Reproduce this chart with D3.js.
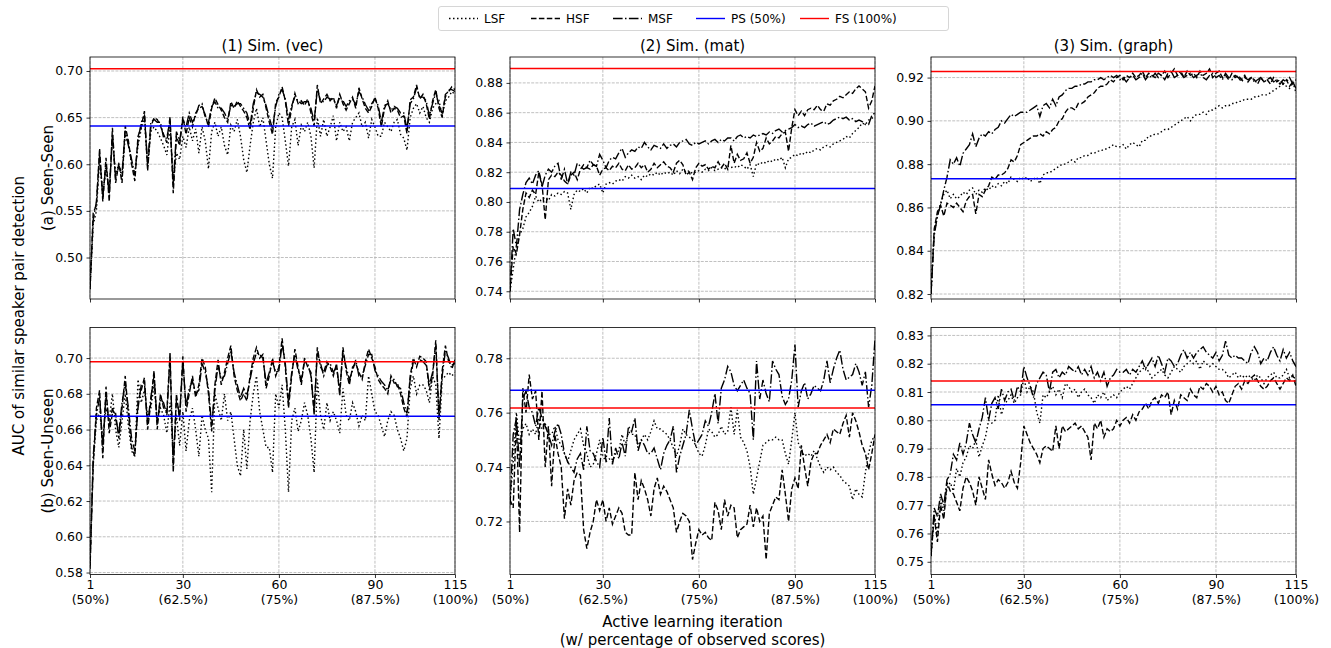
<!DOCTYPE html>
<html>
<head>
<meta charset="utf-8">
<script src="https://cdn.jsdelivr.net/npm/d3@7"></script>
<style>
  body { margin: 0; background: #fff; }
  text { font-family: "DejaVu Sans", sans-serif; fill: #000; }
</style>
</head>
<body>
<div id="container"></div>
<script>
// CONSTANTS AND GLOBALS
const width = 1331, height = 648;

const iterations = d3.range(1, 116);
const xTicks = [1, 30, 60, 90, 115];
const xTickLabels = [["1", "(50%)"], ["30", "(62.5%)"], ["60", "(75%)"], ["90", "(87.5%)"], ["115", "(100%)"]];
const colTitles = ["(1) Sim. (vec)", "(2) Sim. (mat)", "(3) Sim. (graph)"];
const rowTitles = ["(a) Seen-Seen", "(b) Seen-Unseen"];
const legendLabels = ["LSF", "HSF", "MSF", "PS (50%)", "FS (100%)"];

// DATA
// (1) vec, Seen-Seen
const lsfVecSS = [0.466,0.535,0.550,0.605,0.570,0.595,0.572,0.625,0.590,0.600,
  0.585,0.630,0.622,0.600,0.590,0.620,0.638,0.648,0.598,0.635,
  0.640,0.635,0.628,0.620,0.610,0.640,0.580,0.612,0.605,0.630,
  0.618,0.640,0.625,0.638,0.612,0.640,0.625,0.595,0.635,0.645,
  0.630,0.640,0.620,0.610,0.642,0.635,0.648,0.630,0.605,0.591,
  0.620,0.645,0.660,0.640,0.650,0.625,0.600,0.585,0.640,0.655,
  0.650,0.625,0.598,0.640,0.648,0.620,0.642,0.635,0.645,0.630,
  0.596,0.650,0.630,0.648,0.630,0.640,0.652,0.625,0.645,0.635,
  0.640,0.625,0.645,0.650,0.655,0.640,0.645,0.628,0.648,0.640,
  0.630,0.630,0.645,0.640,0.635,0.645,0.648,0.632,0.628,0.615,
  0.650,0.660,0.665,0.655,0.662,0.650,0.645,0.660,0.665,0.668,
  0.652,0.668,0.672,0.678,0.675];
const hsfVecSS = [0.466,0.548,0.556,0.617,0.560,0.607,0.560,0.639,0.580,0.601,
  0.580,0.641,0.625,0.600,0.582,0.630,0.640,0.657,0.593,0.640,
  0.650,0.648,0.641,0.632,0.623,0.651,0.569,0.630,0.620,0.651,
  0.632,0.650,0.640,0.655,0.660,0.662,0.653,0.640,0.660,0.671,
  0.664,0.658,0.650,0.645,0.667,0.660,0.668,0.662,0.657,0.650,
  0.637,0.660,0.680,0.672,0.675,0.660,0.645,0.632,0.666,0.672,
  0.683,0.668,0.641,0.660,0.676,0.665,0.668,0.663,0.670,0.655,
  0.641,0.685,0.665,0.670,0.675,0.668,0.672,0.660,0.675,0.665,
  0.658,0.665,0.672,0.660,0.682,0.670,0.660,0.655,0.662,0.672,
  0.660,0.640,0.660,0.668,0.655,0.660,0.658,0.650,0.652,0.633,
  0.669,0.672,0.685,0.670,0.675,0.665,0.648,0.668,0.680,0.660,
  0.650,0.675,0.678,0.683,0.680];
const msfVecSS = [0.468,0.540,0.560,0.610,0.565,0.600,0.568,0.632,0.585,0.598,
  0.590,0.636,0.620,0.605,0.588,0.625,0.645,0.652,0.600,0.645,
  0.648,0.645,0.645,0.628,0.628,0.647,0.578,0.635,0.625,0.648,
  0.640,0.655,0.645,0.652,0.663,0.665,0.650,0.645,0.662,0.667,
  0.660,0.660,0.655,0.648,0.663,0.662,0.665,0.665,0.660,0.655,
  0.642,0.665,0.677,0.675,0.672,0.663,0.650,0.638,0.662,0.675,
  0.680,0.670,0.648,0.663,0.672,0.668,0.665,0.667,0.667,0.660,
  0.646,0.680,0.668,0.667,0.672,0.670,0.670,0.663,0.672,0.668,
  0.662,0.668,0.670,0.664,0.678,0.672,0.664,0.658,0.665,0.670,
  0.663,0.645,0.663,0.665,0.658,0.662,0.660,0.655,0.655,0.638,
  0.665,0.670,0.682,0.672,0.672,0.668,0.652,0.665,0.677,0.663,
  0.655,0.672,0.680,0.680,0.678];

// (1) vec, Seen-Unseen
const lsfVecSU = [0.585,0.640,0.665,0.670,0.655,0.672,0.665,0.680,0.660,0.650,
  0.665,0.680,0.662,0.648,0.645,0.688,0.675,0.682,0.668,0.672,
  0.685,0.665,0.672,0.668,0.658,0.675,0.648,0.668,0.651,0.670,
  0.648,0.665,0.672,0.660,0.645,0.668,0.660,0.655,0.625,0.680,
  0.672,0.665,0.680,0.665,0.670,0.655,0.640,0.634,0.660,0.638,
  0.665,0.680,0.690,0.670,0.660,0.650,0.650,0.636,0.680,0.672,
  0.685,0.660,0.625,0.665,0.672,0.659,0.665,0.675,0.668,0.655,
  0.636,0.688,0.668,0.660,0.675,0.665,0.670,0.665,0.658,0.683,
  0.668,0.665,0.675,0.670,0.662,0.668,0.665,0.690,0.680,0.670,
  0.668,0.662,0.656,0.665,0.670,0.668,0.660,0.655,0.648,0.655,
  0.683,0.690,0.680,0.685,0.685,0.682,0.675,0.690,0.685,0.655,
  0.688,0.690,0.692,0.690,0.692];
const hsfVecSU = [0.582,0.640,0.672,0.682,0.644,0.684,0.658,0.669,0.669,0.655,
  0.672,0.690,0.668,0.650,0.645,0.676,0.682,0.689,0.660,0.675,
  0.693,0.660,0.680,0.672,0.670,0.703,0.636,0.680,0.665,0.701,
  0.670,0.680,0.690,0.678,0.685,0.700,0.695,0.680,0.659,0.685,
  0.699,0.685,0.692,0.700,0.707,0.690,0.682,0.676,0.680,0.676,
  0.690,0.700,0.706,0.700,0.702,0.683,0.690,0.700,0.690,0.695,
  0.711,0.695,0.672,0.690,0.705,0.695,0.685,0.700,0.695,0.692,
  0.668,0.706,0.695,0.692,0.698,0.695,0.690,0.697,0.679,0.706,
  0.693,0.685,0.695,0.697,0.692,0.688,0.698,0.705,0.700,0.695,
  0.688,0.685,0.683,0.680,0.690,0.686,0.686,0.680,0.672,0.667,
  0.690,0.700,0.695,0.701,0.700,0.698,0.682,0.690,0.710,0.665,
  0.693,0.707,0.698,0.696,0.697];
const msfVecSU = [0.584,0.645,0.668,0.678,0.650,0.680,0.662,0.672,0.666,0.658,
  0.675,0.686,0.672,0.655,0.648,0.672,0.685,0.686,0.663,0.678,
  0.690,0.664,0.677,0.675,0.668,0.700,0.640,0.677,0.668,0.698,
  0.673,0.683,0.687,0.680,0.682,0.697,0.692,0.683,0.662,0.682,
  0.696,0.688,0.690,0.697,0.704,0.692,0.685,0.678,0.683,0.679,
  0.688,0.697,0.703,0.702,0.700,0.686,0.692,0.698,0.692,0.693,
  0.708,0.697,0.675,0.692,0.702,0.693,0.688,0.698,0.697,0.690,
  0.671,0.703,0.697,0.690,0.696,0.697,0.692,0.695,0.682,0.703,
  0.695,0.688,0.693,0.699,0.690,0.690,0.696,0.702,0.702,0.693,
  0.690,0.687,0.685,0.682,0.688,0.688,0.684,0.683,0.675,0.669,
  0.688,0.698,0.697,0.699,0.698,0.696,0.685,0.692,0.707,0.668,
  0.690,0.704,0.700,0.694,0.699];

// (2) mat, Seen-Seen
const lsfMatSS = [0.740,0.755,0.770,0.778,0.782,0.790,0.793,0.797,0.804,0.800,
  0.802,0.803,0.801,0.805,0.804,0.806,0.805,0.807,0.806,0.795,
  0.805,0.808,0.807,0.809,0.806,0.810,0.809,0.811,0.812,0.806,
  0.812,0.813,0.812,0.814,0.815,0.814,0.817,0.816,0.818,0.816,
  0.817,0.815,0.818,0.817,0.819,0.818,0.820,0.818,0.820,0.819,
  0.820,0.818,0.821,0.819,0.822,0.820,0.821,0.819,0.820,0.821,
  0.820,0.822,0.821,0.823,0.821,0.822,0.823,0.822,0.824,0.823,
  0.824,0.823,0.825,0.824,0.822,0.825,0.817,0.826,0.825,0.827,
  0.826,0.828,0.827,0.829,0.828,0.830,0.823,0.829,0.830,0.832,
  0.831,0.833,0.832,0.834,0.833,0.835,0.836,0.835,0.837,0.838,
  0.837,0.839,0.840,0.841,0.842,0.844,0.843,0.846,0.848,0.850,
  0.853,0.852,0.855,0.856,0.858];
const hsfMatSS = [0.740,0.770,0.765,0.778,0.795,0.806,0.803,0.808,0.805,0.820,
  0.812,0.788,0.815,0.818,0.817,0.820,0.818,0.814,0.812,0.818,
  0.820,0.815,0.822,0.825,0.823,0.822,0.825,0.824,0.818,0.822,
  0.823,0.821,0.824,0.823,0.826,0.822,0.821,0.825,0.822,0.823,
  0.826,0.823,0.825,0.820,0.822,0.826,0.823,0.825,0.827,0.824,
  0.823,0.820,0.826,0.828,0.825,0.818,0.820,0.815,0.823,0.826,
  0.824,0.825,0.822,0.824,0.823,0.827,0.823,0.826,0.822,0.838,
  0.826,0.832,0.828,0.829,0.833,0.826,0.830,0.840,0.834,0.836,
  0.843,0.839,0.841,0.844,0.843,0.846,0.847,0.834,0.850,0.862,
  0.858,0.861,0.858,0.862,0.863,0.862,0.865,0.862,0.861,0.866,
  0.865,0.868,0.869,0.871,0.870,0.872,0.874,0.873,0.876,0.878,
  0.876,0.874,0.863,0.868,0.878];
const msfMatSS = [0.740,0.782,0.770,0.795,0.805,0.813,0.816,0.812,0.818,0.821,
  0.810,0.818,0.822,0.820,0.824,0.826,0.815,0.822,0.812,0.820,
  0.818,0.826,0.824,0.822,0.823,0.828,0.825,0.824,0.832,0.828,
  0.823,0.828,0.830,0.829,0.833,0.836,0.830,0.833,0.835,0.834,
  0.837,0.836,0.840,0.837,0.835,0.838,0.837,0.836,0.839,0.836,
  0.838,0.839,0.837,0.840,0.841,0.842,0.839,0.838,0.840,0.839,
  0.840,0.841,0.839,0.841,0.842,0.840,0.842,0.841,0.843,0.843,
  0.841,0.844,0.845,0.843,0.844,0.843,0.845,0.844,0.845,0.846,
  0.845,0.847,0.846,0.848,0.849,0.847,0.848,0.849,0.850,0.852,
  0.850,0.851,0.850,0.852,0.853,0.851,0.852,0.853,0.854,0.852,
  0.853,0.855,0.856,0.857,0.856,0.857,0.855,0.856,0.854,0.855,
  0.854,0.852,0.852,0.858,0.860];

// (2) mat, Seen-Unseen
const lsfMatSU = [0.727,0.742,0.760,0.748,0.754,0.756,0.752,0.754,0.752,0.758,
  0.754,0.756,0.752,0.752,0.755,0.750,0.748,0.745,0.742,0.746,
  0.750,0.752,0.754,0.748,0.745,0.740,0.741,0.745,0.750,0.744,
  0.742,0.743,0.742,0.745,0.746,0.752,0.748,0.753,0.752,0.752,
  0.748,0.750,0.752,0.750,0.753,0.757,0.754,0.754,0.753,0.752,
  0.750,0.747,0.744,0.748,0.754,0.752,0.751,0.750,0.748,0.745,
  0.744,0.748,0.754,0.753,0.751,0.752,0.755,0.752,0.753,0.762,
  0.752,0.761,0.751,0.749,0.746,0.740,0.730,0.736,0.742,0.748,
  0.749,0.750,0.750,0.751,0.750,0.750,0.745,0.741,0.750,0.760,
  0.749,0.746,0.744,0.745,0.744,0.746,0.743,0.740,0.738,0.740,
  0.739,0.740,0.738,0.737,0.735,0.734,0.733,0.728,0.732,0.730,
  0.729,0.738,0.745,0.750,0.751];
const hsfMatSU = [0.728,0.725,0.758,0.716,0.769,0.760,0.774,0.765,0.768,0.750,
  0.768,0.740,0.755,0.733,0.752,0.745,0.740,0.721,0.732,0.726,
  0.735,0.738,0.737,0.717,0.710,0.716,0.720,0.728,0.724,0.728,
  0.720,0.725,0.719,0.722,0.725,0.723,0.716,0.715,0.715,0.738,
  0.728,0.735,0.732,0.728,0.722,0.732,0.736,0.730,0.733,0.731,
  0.728,0.725,0.716,0.720,0.723,0.722,0.720,0.706,0.712,0.717,
  0.715,0.716,0.714,0.713,0.727,0.724,0.717,0.728,0.722,0.726,
  0.725,0.714,0.717,0.718,0.719,0.726,0.718,0.725,0.720,0.722,
  0.706,0.723,0.726,0.729,0.728,0.739,0.730,0.720,0.732,0.736,
  0.732,0.748,0.740,0.733,0.742,0.745,0.745,0.748,0.750,0.752,
  0.749,0.754,0.753,0.752,0.756,0.759,0.751,0.760,0.757,0.753,
  0.748,0.745,0.739,0.745,0.752];
const msfMatSU = [0.726,0.752,0.758,0.740,0.765,0.768,0.762,0.760,0.755,0.762,
  0.758,0.755,0.752,0.748,0.753,0.756,0.752,0.745,0.742,0.740,
  0.738,0.743,0.745,0.739,0.755,0.746,0.745,0.742,0.740,0.751,
  0.742,0.758,0.741,0.747,0.743,0.749,0.744,0.755,0.753,0.758,
  0.746,0.750,0.748,0.745,0.745,0.747,0.743,0.739,0.745,0.748,
  0.750,0.755,0.738,0.744,0.748,0.752,0.761,0.754,0.748,0.750,
  0.752,0.757,0.755,0.760,0.767,0.756,0.769,0.772,0.777,0.775,
  0.770,0.768,0.770,0.772,0.769,0.767,0.750,0.779,0.765,0.772,
  0.767,0.764,0.779,0.776,0.774,0.766,0.763,0.765,0.772,0.785,
  0.762,0.768,0.771,0.765,0.767,0.770,0.769,0.768,0.772,0.779,
  0.771,0.776,0.780,0.783,0.776,0.772,0.773,0.774,0.778,0.775,
  0.770,0.775,0.762,0.770,0.787];

// (3) graph, Seen-Seen
const lsfGraphSS = [0.820,0.848,0.856,0.862,0.866,0.868,0.864,0.866,0.864,0.865,
  0.867,0.866,0.868,0.869,0.866,0.868,0.867,0.869,0.868,0.870,
  0.869,0.871,0.870,0.872,0.871,0.874,0.873,0.872,0.874,0.873,
  0.874,0.872,0.873,0.874,0.871,0.875,0.876,0.876,0.877,0.878,
  0.879,0.880,0.880,0.881,0.882,0.881,0.883,0.883,0.884,0.884,
  0.885,0.885,0.886,0.886,0.887,0.887,0.888,0.889,0.888,0.888,
  0.889,0.887,0.889,0.890,0.889,0.888,0.891,0.891,0.893,0.893,
  0.894,0.894,0.895,0.896,0.896,0.897,0.898,0.899,0.900,0.901,
  0.902,0.900,0.902,0.903,0.903,0.904,0.903,0.905,0.905,0.906,
  0.907,0.906,0.907,0.907,0.908,0.908,0.909,0.909,0.910,0.910,
  0.910,0.911,0.911,0.912,0.912,0.912,0.913,0.914,0.915,0.916,
  0.917,0.916,0.915,0.918,0.913];
const hsfGraphSS = [0.820,0.850,0.858,0.861,0.856,0.862,0.861,0.860,0.862,0.860,
  0.858,0.863,0.865,0.866,0.857,0.866,0.865,0.868,0.870,0.874,
  0.873,0.875,0.875,0.876,0.878,0.882,0.881,0.884,0.889,0.890,
  0.891,0.892,0.893,0.893,0.894,0.893,0.895,0.894,0.896,0.897,
  0.900,0.901,0.904,0.906,0.906,0.905,0.908,0.908,0.909,0.911,
  0.912,0.913,0.915,0.916,0.916,0.917,0.919,0.918,0.920,0.921,
  0.919,0.921,0.920,0.922,0.920,0.921,0.923,0.920,0.922,0.921,
  0.920,0.922,0.921,0.923,0.920,0.922,0.924,0.921,0.922,0.920,
  0.923,0.921,0.922,0.920,0.923,0.921,0.922,0.924,0.920,0.922,
  0.923,0.920,0.921,0.919,0.922,0.920,0.921,0.919,0.921,0.918,
  0.920,0.919,0.917,0.920,0.918,0.919,0.917,0.920,0.918,0.919,
  0.917,0.919,0.916,0.918,0.915];
const msfGraphSS = [0.820,0.847,0.856,0.861,0.868,0.874,0.882,0.880,0.883,0.879,
  0.885,0.887,0.889,0.894,0.888,0.892,0.894,0.893,0.895,0.894,
  0.896,0.897,0.900,0.899,0.901,0.903,0.902,0.903,0.904,0.904,
  0.904,0.905,0.906,0.907,0.902,0.907,0.908,0.906,0.910,0.907,
  0.911,0.912,0.914,0.915,0.915,0.916,0.916,0.917,0.917,0.918,
  0.918,0.919,0.919,0.920,0.919,0.920,0.921,0.920,0.921,0.919,
  0.920,0.918,0.920,0.921,0.919,0.920,0.922,0.919,0.921,0.920,
  0.922,0.920,0.921,0.919,0.922,0.923,0.920,0.921,0.923,0.920,
  0.921,0.922,0.920,0.921,0.922,0.920,0.919,0.921,0.922,0.920,
  0.921,0.919,0.922,0.920,0.919,0.921,0.920,0.918,0.920,0.919,
  0.920,0.918,0.919,0.920,0.918,0.919,0.920,0.918,0.919,0.917,
  0.919,0.918,0.920,0.917,0.919];

// (3) graph, Seen-Unseen
const lsfGraphSU = [0.752,0.767,0.760,0.772,0.768,0.776,0.778,0.775,0.783,0.780,
  0.785,0.787,0.791,0.790,0.793,0.787,0.791,0.794,0.800,0.799,
  0.800,0.809,0.802,0.806,0.807,0.809,0.806,0.808,0.809,0.815,
  0.810,0.812,0.810,0.803,0.799,0.809,0.808,0.810,0.812,0.809,
  0.811,0.808,0.813,0.812,0.810,0.811,0.808,0.810,0.811,0.809,
  0.808,0.806,0.809,0.808,0.810,0.807,0.808,0.809,0.808,0.810,
  0.811,0.812,0.811,0.813,0.815,0.817,0.818,0.819,0.817,0.815,
  0.816,0.817,0.818,0.816,0.815,0.817,0.819,0.818,0.817,0.819,
  0.820,0.821,0.820,0.821,0.818,0.821,0.820,0.819,0.820,0.819,
  0.818,0.818,0.817,0.815,0.816,0.817,0.815,0.816,0.815,0.816,
  0.815,0.814,0.816,0.815,0.813,0.815,0.816,0.817,0.815,0.815,
  0.816,0.818,0.815,0.816,0.814];
const hsfGraphSU = [0.752,0.766,0.757,0.770,0.765,0.778,0.775,0.774,0.771,0.768,
  0.776,0.780,0.778,0.775,0.770,0.780,0.776,0.772,0.786,0.781,
  0.777,0.779,0.778,0.776,0.778,0.782,0.778,0.776,0.785,0.798,
  0.795,0.792,0.790,0.788,0.785,0.790,0.791,0.790,0.789,0.798,
  0.790,0.798,0.796,0.797,0.798,0.799,0.797,0.798,0.796,0.794,
  0.786,0.799,0.797,0.800,0.794,0.797,0.796,0.797,0.800,0.798,
  0.800,0.801,0.799,0.802,0.800,0.803,0.804,0.806,0.804,0.807,
  0.808,0.806,0.809,0.808,0.810,0.802,0.807,0.804,0.809,0.808,
  0.807,0.811,0.809,0.808,0.812,0.811,0.813,0.812,0.810,0.812,
  0.809,0.810,0.807,0.806,0.809,0.812,0.813,0.811,0.814,0.813,
  0.815,0.816,0.814,0.812,0.811,0.812,0.814,0.815,0.813,0.811,
  0.813,0.815,0.814,0.816,0.812];
const msfGraphSU = [0.752,0.769,0.766,0.774,0.770,0.779,0.781,0.788,0.786,0.792,
  0.788,0.792,0.799,0.795,0.792,0.797,0.801,0.808,0.800,0.806,
  0.808,0.804,0.811,0.807,0.810,0.811,0.807,0.812,0.810,0.819,
  0.815,0.812,0.808,0.813,0.815,0.817,0.816,0.810,0.817,0.818,
  0.815,0.817,0.816,0.819,0.818,0.817,0.819,0.816,0.818,0.816,
  0.819,0.815,0.817,0.814,0.817,0.812,0.815,0.816,0.818,0.817,
  0.817,0.818,0.816,0.818,0.817,0.819,0.821,0.818,0.820,0.822,
  0.819,0.823,0.820,0.817,0.822,0.821,0.819,0.820,0.823,0.825,
  0.822,0.824,0.822,0.824,0.825,0.826,0.824,0.823,0.822,0.824,
  0.821,0.823,0.828,0.823,0.822,0.823,0.822,0.822,0.821,0.820,
  0.824,0.826,0.824,0.820,0.822,0.821,0.824,0.826,0.823,0.821,
  0.825,0.822,0.824,0.821,0.819];

// reference levels: rows = Seen-Seen / Seen-Unseen, cols = vec / mat / graph
const psLevels = [[0.641, 0.809, 0.8732], [0.6675, 0.7682, 0.8055]];
const fsLevels = [[0.7025, 0.8897, 0.9228], [0.698, 0.7617, 0.8139]];

// y axis ranges and ticks per panel
const yDomains = [
  [[0.4555, 0.715], [0.7348, 0.8974], [0.8177, 0.9295]],
  [[0.5789, 0.7171], [0.7005, 0.7913], [0.7455, 0.8328]]
];
const yTicks = [
  [[0.50, 0.55, 0.60, 0.65, 0.70], [0.74, 0.76, 0.78, 0.80, 0.82, 0.84, 0.86, 0.88], [0.82, 0.84, 0.86, 0.88, 0.90, 0.92]],
  [[0.58, 0.60, 0.62, 0.64, 0.66, 0.68, 0.70], [0.72, 0.74, 0.76, 0.78], [0.75, 0.76, 0.77, 0.78, 0.79, 0.80, 0.81, 0.82, 0.83]]
];

const seriesData = [
  [[lsfVecSS, hsfVecSS, msfVecSS], [lsfMatSS, hsfMatSS, msfMatSS], [lsfGraphSS, hsfGraphSS, msfGraphSS]],
  [[lsfVecSU, hsfVecSU, msfVecSU], [lsfMatSU, hsfMatSU, msfMatSU], [lsfGraphSU, hsfGraphSU, msfGraphSU]]
];

// STYLES
const seriesDash = ["1.5,2.5", "5.5,2.4", "9.6,2.4,1.5,2.4"];
const colLeft = [90, 510, 931];
const panelW = 365;
const rowTop = [57, 327.5];
const rowBottom = [299, 574.5];
const tickFont = 12.5, labelFont = 15;

// CREATE SVG ELEMENT
const svg = d3.select("#container")
  .append("svg")
  .attr("width", width)
  .attr("height", height);

const fmt2 = d3.format(".2f");

rowTitles.forEach((rt, r) => {
  colTitles.forEach((ct, c) => {
    const x0 = colLeft[c], x1 = colLeft[c] + panelW;
    const y0 = rowTop[r], y1 = rowBottom[r];

    const xScale = d3.scaleLinear().domain([1, 115]).range([x0, x1]);
    const yScale = d3.scaleLinear().domain(yDomains[r][c]).range([y1, y0]);

    const g = svg.append("g");
    const clipId = `clip-${r}-${c}`;
    g.append("clipPath").attr("id", clipId)
      .append("rect").attr("x", x0).attr("y", y0).attr("width", x1 - x0).attr("height", y1 - y0);

    // grid
    const grid = g.append("g").attr("stroke", "#b0b0b0").attr("stroke-width", 0.8)
      .attr("stroke-dasharray", "2.96,1.28");
    grid.selectAll(".gx").data(xTicks).join("line")
      .attr("x1", d => xScale(d)).attr("x2", d => xScale(d))
      .attr("y1", y0).attr("y2", y1);
    grid.selectAll(".gy").data(yTicks[r][c]).join("line")
      .attr("x1", x0).attr("x2", x1)
      .attr("y1", d => yScale(d)).attr("y2", d => yScale(d));

    // series
    const line = d3.line()
      .x((d, i) => xScale(iterations[i]))
      .y(d => yScale(d));

    const plot = g.append("g").attr("clip-path", `url(#${clipId})`);
    seriesData[r][c].forEach((vals, k) => {
      plot.append("path")
        .datum(vals)
        .attr("fill", "none")
        .attr("stroke", "#000")
        .attr("stroke-width", 1.4)
        .attr("stroke-dasharray", seriesDash[k])
        .attr("d", line);
    });

    // reference lines
    [[psLevels[r][c], "#0000ff"], [fsLevels[r][c], "#ff0000"]].forEach(([v, col]) => {
      plot.append("line")
        .attr("x1", x0).attr("x2", x1)
        .attr("y1", yScale(v)).attr("y2", yScale(v))
        .attr("stroke", col).attr("stroke-width", 1.5);
    });

    // axes
    const yAxis = d3.axisLeft(yScale).tickValues(yTicks[r][c]).tickFormat(fmt2)
      .tickSize(3.5).tickPadding(3.5);
    const yG = g.append("g").attr("transform", `translate(${x0},0)`).call(yAxis);
    yG.select(".domain").remove();
    yG.selectAll("text").attr("font-size", tickFont).attr("font-family", "DejaVu Sans");
    yG.selectAll("line").attr("stroke-width", 0.8);

    const xAxis = d3.axisBottom(xScale).tickValues(xTicks).tickSize(3.5).tickFormat("");
    const xG = g.append("g").attr("transform", `translate(0,${y1})`).call(xAxis);
    xG.select(".domain").remove();
    xG.selectAll("line").attr("stroke-width", 0.8);
    if (r === 1) {
      xG.selectAll(".tick text").each(function (d, i) {
        const t = d3.select(this).text(null).attr("font-size", tickFont).attr("font-family", "DejaVu Sans").attr("y", 6);
        xTickLabels[i].forEach((s, j) => {
          t.append("tspan").attr("x", 0).attr("dy", j === 0 ? "0.71em" : "1.2em").text(s);
        });
      });
    }

    // frame
    g.append("rect").attr("x", x0).attr("y", y0).attr("width", x1 - x0).attr("height", y1 - y0)
      .attr("fill", "none").attr("stroke", "#000").attr("stroke-width", 0.8);

    if (r === 0) {
      g.append("text").attr("x", (x0 + x1) / 2).attr("y", y0 - 6)
        .attr("text-anchor", "middle").attr("font-size", labelFont).text(ct);
    }
    if (c === 0) {
      g.append("text")
        .attr("transform", `translate(53,${(y0 + y1) / 2}) rotate(-90)`)
        .attr("text-anchor", "middle").attr("font-size", labelFont).text(rt);
    }
  });
});

// shared labels
svg.append("text")
  .attr("transform", `translate(24,${(rowTop[0] + rowBottom[1]) / 2}) rotate(-90)`)
  .attr("text-anchor", "middle").attr("font-size", labelFont)
  .text("AUC of similar speaker pair detection");

const xLab = svg.append("text").attr("x", colLeft[1] + panelW / 2).attr("y", 627)
  .attr("text-anchor", "middle").attr("font-size", labelFont);
xLab.append("tspan").attr("x", colLeft[1] + panelW / 2).text("Active learning iteration");
xLab.append("tspan").attr("x", colLeft[1] + panelW / 2).attr("dy", 18).text("(w/ percentage of observed scores)");

// LEGEND
const legend = svg.append("g");
legend.append("rect").attr("x", 438.5).attr("y", 6.5).attr("width", 510).attr("height", 24)
  .attr("rx", 2.5).attr("fill", "#fff").attr("fill-opacity", 0.8)
  .attr("stroke", "#cccccc").attr("stroke-width", 0.8);
const legendX = [449, 531, 613, 696, 800];
const legendStroke = ["#000", "#000", "#000", "#0000ff", "#ff0000"];
const legendDash = [seriesDash[0], seriesDash[1], seriesDash[2], null, null];
legendLabels.forEach((lab, i) => {
  legend.append("line")
    .attr("x1", legendX[i]).attr("x2", legendX[i] + 29)
    .attr("y1", 18.5).attr("y2", 18.5)
    .attr("stroke", legendStroke[i]).attr("stroke-width", 1.4)
    .attr("stroke-dasharray", legendDash[i]);
  legend.append("text").attr("x", legendX[i] + 35).attr("y", 22.5)
    .attr("font-size", 12).text(lab);
});
</script>
</body>
</html>
